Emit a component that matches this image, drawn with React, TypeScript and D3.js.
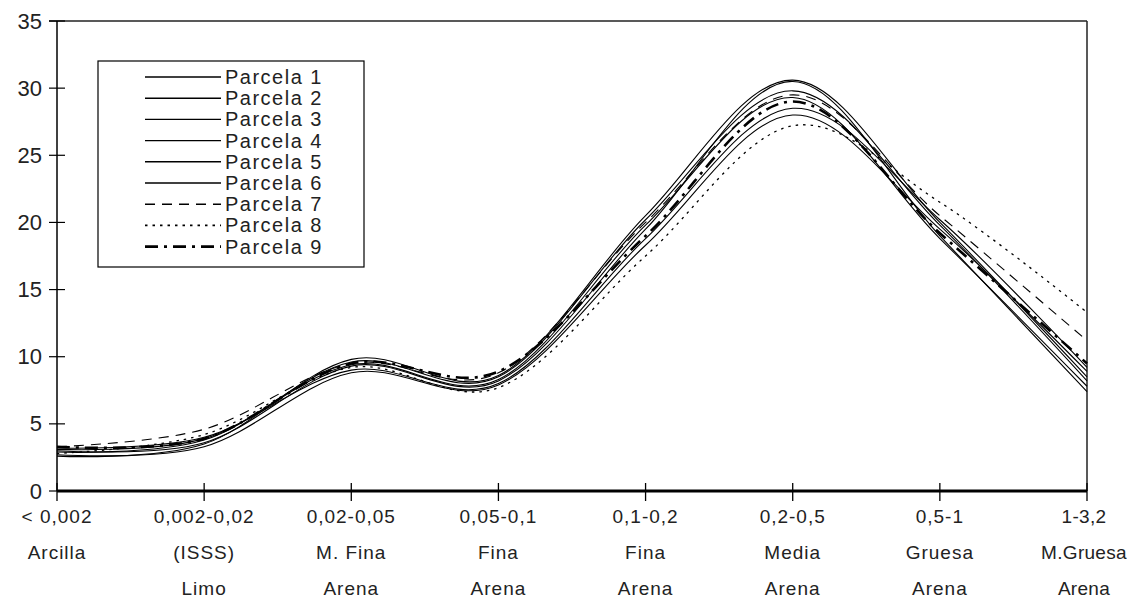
import { useRef, useEffect } from "react";
import * as d3 from "d3";

const sizes = ["< 0,002", "0,002-0,02", "0,02-0,05", "0,05-0,1", "0,1-0,2", "0,2-0,5", "0,5-1", "1-3,2"];
const names = ["Arcilla", "(ISSS)", "M. Fina", "Fina", "Fina", "Media", "Gruesa", "M.Gruesa"];
const classes = ["", "Limo", "Arena", "Arena", "Arena", "Arena", "Arena", "Arena"];

const seriesNames = ["Parcela 1", "Parcela 2", "Parcela 3", "Parcela 4", "Parcela 5", "Parcela 6", "Parcela 7", "Parcela 8", "Parcela 9"];

const p1 = [2.7, 3.3, 8.8, 7.9, 18.3, 28.0, 19.5, 8.9];
const p2 = [3.0, 3.6, 9.3, 8.2, 19.5, 30.5, 19.0, 7.4];
const p3 = [2.9, 3.8, 9.6, 8.5, 20.2, 29.8, 19.8, 8.2];
const p4 = [3.2, 4.0, 9.0, 8.0, 18.8, 28.5, 20.2, 9.2];
const p5 = [2.6, 3.5, 9.8, 8.6, 20.5, 30.6, 20.0, 8.5];
const p6 = [3.1, 3.9, 9.4, 8.3, 19.8, 29.3, 18.8, 7.8];
const p7 = [3.3, 4.6, 9.5, 8.8, 20.0, 29.5, 20.5, 11.2];
const p8 = [2.8, 4.2, 9.2, 7.7, 17.5, 27.2, 21.5, 13.3];
const p9 = [3.3, 3.9, 9.5, 8.9, 19.0, 29.0, 19.2, 9.5];

const yTicks = [0, 5, 10, 15, 20, 25, 30, 35];

export default function App() {
  const ref = useRef<SVGSVGElement>(null);

  useEffect(() => {
    const svg = d3.select(ref.current);
    svg.selectAll("*").remove();

    const values = [p1, p2, p3, p4, p5, p6, p7, p8, p9];
    const styles = [
      { w: 1.1, dash: null },
      { w: 1.1, dash: null },
      { w: 1.1, dash: null },
      { w: 1.1, dash: null },
      { w: 1.1, dash: null },
      { w: 1.1, dash: null },
      { w: 1.1, dash: "10,7" },
      { w: 1.3, dash: "2.5,5" },
      { w: 2.6, dash: "13,6,3,6" },
    ];

    const x = d3.scalePoint<number>().domain(d3.range(sizes.length)).range([57, 1087]);
    const y = d3.scaleLinear().domain([0, 35]).range([491, 21]);
    const font = "Arial, 'Liberation Sans', sans-serif";

    // frame
    svg.append("line").attr("x1", 49).attr("x2", 1087).attr("y1", 21).attr("y2", 21)
      .attr("stroke", "#222").attr("stroke-width", 1.5);
    svg.append("line").attr("x1", 1087).attr("x2", 1087).attr("y1", 21).attr("y2", 491)
      .attr("stroke", "#222").attr("stroke-width", 1.5);

    // y axis
    svg.append("line").attr("x1", 57).attr("x2", 57).attr("y1", 21).attr("y2", 491)
      .attr("stroke", "#000").attr("stroke-width", 1.5);
    yTicks.forEach((t) => {
      svg.append("line").attr("x1", 49).attr("x2", 65).attr("y1", y(t)).attr("y2", y(t))
        .attr("stroke", "#000").attr("stroke-width", 1.2);
      svg.append("text").attr("x", 42).attr("y", y(t)).attr("text-anchor", "end")
        .attr("dominant-baseline", "central").attr("font-family", font).attr("font-size", 22)
        .attr("fill", "#222").text(t);
    });

    // lines
    const line = d3.line<number>()
      .x((_, i) => x(i) as number)
      .y((d) => y(d))
      .curve(d3.curveCatmullRom.alpha(0));
    values.forEach((v, i) => {
      svg.append("path").attr("d", line(v)).attr("fill", "none").attr("stroke", "#000")
        .attr("stroke-width", styles[i].w)
        .attr("stroke-dasharray", styles[i].dash);
    });

    // x axis
    svg.append("line").attr("x1", 57).attr("x2", 1087).attr("y1", 491).attr("y2", 491)
      .attr("stroke", "#000").attr("stroke-width", 3);
    sizes.forEach((s, i) => {
      const px = x(i) as number;
      const last = i === sizes.length - 1;
      svg.append("line").attr("x1", px).attr("x2", px).attr("y1", 483).attr("y2", 501)
        .attr("stroke", "#000").attr("stroke-width", 1.3);
      const rows = [s, names[i], classes[i]];
      rows.forEach((r, j) => {
        svg.append("text").attr("x", last ? px - 3 : px).attr("y", 523 + j * 36)
          .attr("text-anchor", "middle")
          .attr("font-family", font).attr("font-size", 19)
          .attr("letter-spacing", last ? 0.3 : 1)
          .attr("fill", "#222").text(r);
      });
    });

    // legend
    const lg = svg.append("g");
    lg.append("rect").attr("x", 98).attr("y", 61).attr("width", 266).attr("height", 206)
      .attr("fill", "#fff").attr("stroke", "#000").attr("stroke-width", 1.2);
    seriesNames.forEach((n, i) => {
      const cy = 77 + i * 21.2;
      lg.append("line").attr("x1", 145).attr("x2", 221).attr("y1", cy).attr("y2", cy)
        .attr("stroke", "#000").attr("stroke-width", styles[i].w + 0.3)
        .attr("stroke-dasharray", styles[i].dash);
      lg.append("text").attr("x", 225).attr("y", cy).attr("dominant-baseline", "central")
        .attr("font-family", font).attr("font-size", 20).attr("letter-spacing", 1.5)
        .attr("fill", "#222").text(n);
    });
  }, []);

  return (
    <svg
      ref={ref}
      width={1127}
      height={605}
      style={{ display: "block", position: "absolute", left: 0, top: 0 }}
    />
  );
}
